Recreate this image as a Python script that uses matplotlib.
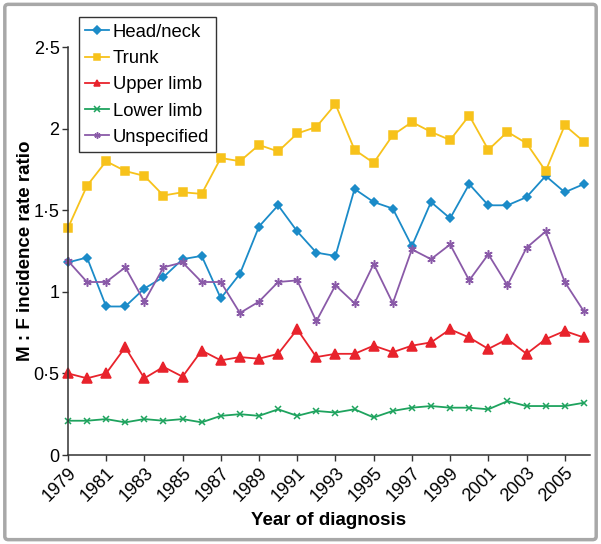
import matplotlib
matplotlib.use('Agg')
import matplotlib.pyplot as plt
from matplotlib.patches import FancyBboxPatch
import numpy as np

plt.rcParams['font.family'] = ['Liberation Sans', 'DejaVu Sans']

# 数据
years = list(range(1979, 2007))
head_neck = [1.18, 1.21, 0.91, 0.91, 1.02, 1.09, 1.20, 1.22, 0.96, 1.11, 1.40, 1.53, 1.37, 1.24,
             1.22, 1.63, 1.55, 1.51, 1.28, 1.55, 1.45, 1.66, 1.53, 1.53, 1.58, 1.71, 1.61, 1.66]
trunk = [1.39, 1.65, 1.80, 1.74, 1.71, 1.59, 1.61, 1.60, 1.82, 1.80, 1.90, 1.86, 1.97, 2.01,
         2.15, 1.87, 1.79, 1.96, 2.04, 1.98, 1.93, 2.08, 1.87, 1.98, 1.91, 1.74, 2.02, 1.92]
upper_limb = [0.50, 0.47, 0.50, 0.66, 0.47, 0.54, 0.48, 0.64, 0.58, 0.60, 0.59, 0.62, 0.77, 0.60,
              0.62, 0.62, 0.67, 0.63, 0.67, 0.69, 0.77, 0.72, 0.65, 0.71, 0.62, 0.71, 0.76, 0.72]
lower_limb = [0.21, 0.21, 0.22, 0.20, 0.22, 0.21, 0.22, 0.20, 0.24, 0.25, 0.24, 0.28, 0.24, 0.27,
              0.26, 0.28, 0.23, 0.27, 0.29, 0.30, 0.29, 0.29, 0.28, 0.33, 0.30, 0.30, 0.30, 0.32]
unspecified = [1.19, 1.06, 1.06, 1.15, 0.94, 1.15, 1.18, 1.06, 1.06, 0.87, 0.94, 1.06, 1.07, 0.82,
               1.04, 0.93, 1.17, 0.93, 1.26, 1.20, 1.29, 1.07, 1.23, 1.04, 1.27, 1.37, 1.06, 0.88]

series = [
    ("Head/neck", head_neck, '#1b8bc8', 'D', 4.5),
    ("Trunk", trunk, '#f7c21b', 's', 6),
    ("Upper limb", upper_limb, '#e8232c', '^', 6.5),
    ("Lower limb", lower_limb, '#1ea35e', 'x', 5),
    ("Unspecified", unspecified, '#8a5aa8', (6, 2, 0), 6),
]

fig = plt.figure(figsize=(6.01, 5.44), dpi=100)
ax = fig.add_axes([0.113, 0.1636, 0.869, 0.75])

for name, vals, col, mk, ms in series:
    ax.plot(years, vals, color=col, marker=mk, markersize=ms, linewidth=1.3,
            markeredgewidth=1.1, label=name, clip_on=False)

ax.set_xlim(1979, 2006.33)
ax.set_ylim(0, 2.5)
ax.set_yticks([0, 0.5, 1, 1.5, 2, 2.5])
ax.set_yticklabels(['0', '0·5', '1', '1·5', '2', '2·5'])
xt = list(range(1979, 2006, 2))
ax.set_xticks(xt)
ax.set_xticklabels([str(y) for y in xt], rotation=45, ha='right', rotation_mode='anchor')
ax.tick_params(direction='out', length=4, width=1, labelsize=13, color='#333333')
ax.tick_params(axis='x', pad=3)
ax.tick_params(axis='y', pad=2)

for s in ['top', 'right']:
    ax.spines[s].set_visible(False)
for s in ['left', 'bottom']:
    ax.spines[s].set_linewidth(1.1)
    ax.spines[s].set_color('#333333')

ax.set_xlabel('Year of diagnosis', fontsize=13.5, fontweight='bold', labelpad=5)
ax.set_ylabel('M : F incidence rate ratio', fontsize=13.5, fontweight='bold', labelpad=0)

leg = ax.legend(loc='upper left', bbox_to_anchor=(0.131, 0.968), bbox_transform=fig.transFigure,
                fontsize=13.3, handlelength=1.3, handletextpad=0.2, borderpad=0.35,
                labelspacing=0.5, fancybox=False, framealpha=1, borderaxespad=0)
leg.get_frame().set_edgecolor('#333333')
leg.get_frame().set_linewidth(1.0)
for h in leg.legend_handles:
    h.set_markersize(4.5)

# 外框
frame = FancyBboxPatch((0.008, 0.008), 0.984, 0.984, boxstyle='round,pad=0,rounding_size=0.006',
                       transform=fig.transFigure, facecolor='none', edgecolor='#a8a8a8', linewidth=2.5)
fig.patches.append(frame)

fig.savefig('out.png', dpi=100)
plt.close(fig)
